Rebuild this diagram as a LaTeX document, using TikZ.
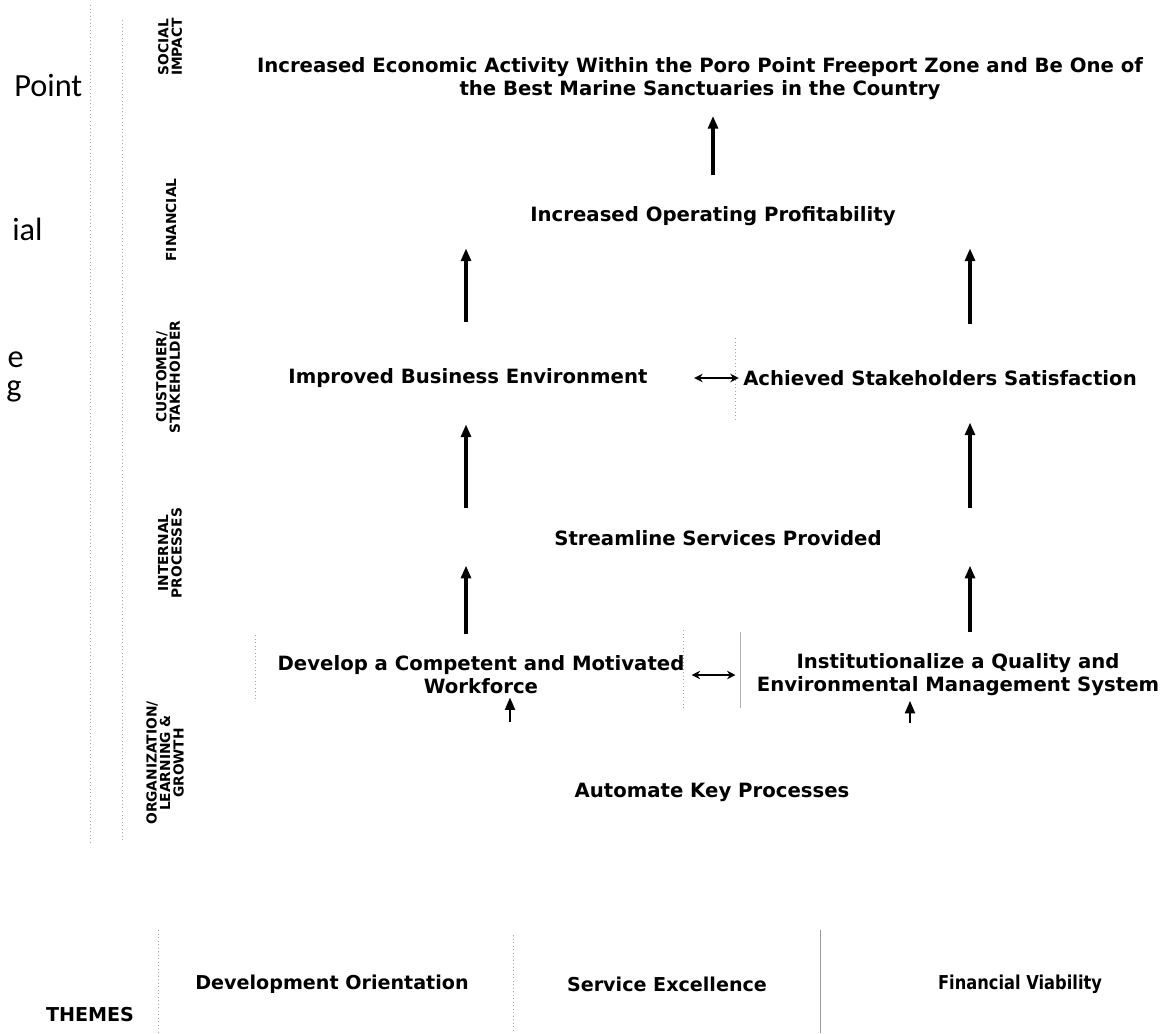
\documentclass[tikz,border=0pt]{standalone}
\usepackage{fontspec}
\setmainfont{DejaVu Sans}
\newfontfamily\leftfont{Carlito}
\newfontfamily\narrowfont{DejaVu Sans}[FakeStretch=0.85]
\usetikzlibrary{arrows.meta,positioning}

\tikzset{
  obj/.style={font=\bfseries\fontsize{14}{16.5}\selectfont, align=center, inner sep=0pt},
  persp/.style={font=\bfseries\fontsize{9.8}{9.6}\selectfont, align=center, rotate=90, inner sep=0pt},
  theme/.style={font=\bfseries\fontsize{13.6}{15}\selectfont, inner sep=0pt},
  cut/.style={font=\leftfont\fontsize{23}{26}\selectfont, inner sep=0pt},
  uparrow/.style={line width=2.2pt, -{Triangle[width=7pt,length=9pt]}},
  twoway/.style={line width=1.2pt, {Stealth[width=6pt,length=6pt]}-{Stealth[width=6pt,length=6pt]}},
  sep/.style={gray!70, dotted, line width=0.5pt}
}

\begin{document}
\begin{tikzpicture}[x=0.025cm, y=-0.025cm] % one unit = one pixel of the scan
    \useasboundingbox (0,0) rectangle (1164,1033);

    % 1. Left column rules and the cut-off text beside them
    \draw[sep] (90,5) -- (90,845);
    \draw[sep] (122,20) -- (122,840);
    \node[cut, anchor=base west] (cutA) at (14,96) {Point};
    \node[cut, anchor=base west] (cutB) at (12,240) {ial};
    \node[cut, anchor=base east] (cutC) at (24,367) {e};
    \node[cut, anchor=base east] (cutD) at (22,396) {g};

    % 2. Perspective labels
    \node[persp] (pSocial) at (170,47) {SOCIAL\\IMPACT};
    \node[persp] (pFin) at (171,220) {FINANCIAL};
    \node[persp] (pCust) at (168,377) {CUSTOMER/\\STAKEHOLDER};
    \node[persp] (pInt) at (170,553) {INTERNAL\\PROCESSES};
    \node[persp] (pOrg) at (165,763) {ORGANIZATION/\\LEARNING \&\\GROWTH};

    % 3. Objectives
    \node[obj] (social) at (700,79) {Increased Economic Activity Within the Poro Point Freeport Zone and Be One of\\the Best Marine Sanctuaries in the Country};
    \node[obj] (profit) at (713,216) {Increased Operating Profitability};
    \node[obj] (improved) at (468,378) {Improved Business Environment};
    \node[obj] (achieved) at (940,378) {Achieved Stakeholders Satisfaction};
    \node[obj] (streamline) at (718,538) {Streamline Services Provided};
    \node[obj] (develop) at (481,675) {Develop a Competent and Motivated\\Workforce};
    \node[obj] (quality) at (958,675) {Institutionalize a Quality and\\Environmental Management System};
    \node[obj] (automate) at (712,792) {Automate Key Processes};

    % faint box edges round the objectives
    \draw[sep] (735,338) -- (735,420);
    \draw[sep] (255,635) -- (255,700);
    \draw[sep] (683,630) -- (683,708);
    \draw[gray!60, line width=0.5pt] (740,632) -- (740,708);

    % 4. Arrows
    \coordinate (colL) at (466,0);
    \coordinate (colR) at (970,0);
    \coordinate (colA) at (510,0);
    \coordinate (colB) at (910,0);
    \draw[uparrow, shorten <=22pt, shorten >=11pt] (profit.north) -- (profit.north |- social.south);
    \draw[uparrow, shorten <=33pt, shorten >=16pt] (improved.north -| colL) -- (profit.south -| colL);
    \draw[uparrow, shorten <=33pt, shorten >=16pt] (achieved.north -| colR) -- (profit.south -| colR);
    \draw[uparrow, shorten <=16pt, shorten >=26pt] (streamline.north -| colL) -- (improved.south -| colL);
    \draw[uparrow, shorten <=16pt, shorten >=26pt] (streamline.north -| colR) -- (achieved.south -| colR);
    \draw[uparrow, shorten <=15pt, shorten >=14pt] (develop.north -| colL) -- (streamline.south -| colL);
    \draw[uparrow, shorten <=15pt, shorten >=14pt] (quality.north -| colR) -- (streamline.south -| colR);
    \draw[uparrow, line width=1.8pt, shorten <=43pt, shorten >=2pt] (automate.north -| colA) -- (develop.south -| colA);
    \draw[uparrow, line width=1.8pt, shorten <=42pt, shorten >=3pt] (automate.north -| colB) -- (quality.south -| colB);
    \draw[twoway, shorten <=33pt, shorten >=3pt] (improved.east) -- (achieved.west);
    \draw[twoway, shorten <=5pt, shorten >=15pt] (develop.east) -- (quality.west);

    % 5. Themes row
    \draw[sep] (158,930) -- (158,1033);
    \draw[sep] (513,935) -- (513,1033);
    \draw[gray!80, line width=0.5pt] (820,930) -- (820,1033);
    \node[theme] (themes) at (90,1015) {THEMES};
    \node[theme] (devOr) at (332,984) {Development Orientation};
    \node[theme] (servEx) at (667,984) {Service Excellence};
    \node[theme, font=\narrowfont\bfseries\fontsize{13.6}{15}\selectfont] (finVi) at (1020,984) {Financial Viability};
\end{tikzpicture}
\end{document}
